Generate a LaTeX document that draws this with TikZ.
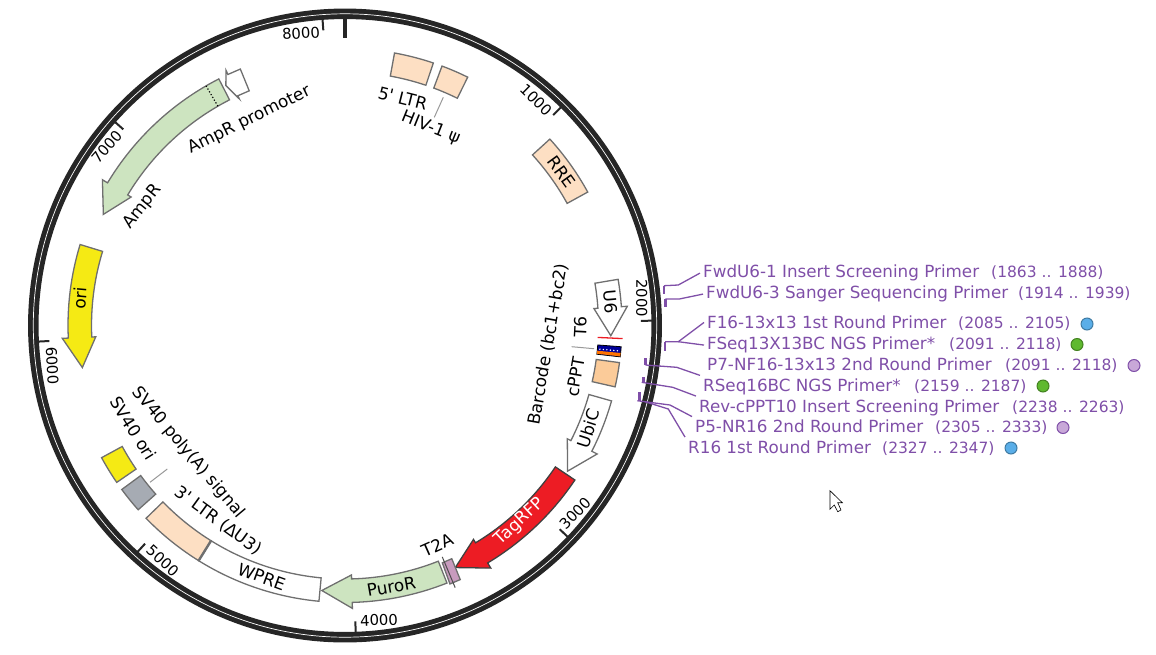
\documentclass[tikz,border=0pt]{standalone}
\usepackage{fontspec}
\setmainfont{DejaVu Sans}[Ligatures=TeXOff]
\definecolor{ringdark}{HTML}{262626}
\definecolor{edgegray}{HTML}{6F6F6F}
\definecolor{peach}{HTML}{FDDFC3}
\definecolor{cpptpeach}{HTML}{FBCB99}
\definecolor{ampgreen}{HTML}{CDE4C0}
\definecolor{oriyellow}{HTML}{F5EA14}
\definecolor{ssgray}{HTML}{A6ABB3}
\definecolor{rfpred}{HTML}{ED1C24}
\definecolor{tpink}{HTML}{C89BBE}
\definecolor{primerpurple}{HTML}{7F4FA8}
\definecolor{dotblue}{HTML}{5AAEE8}
\definecolor{dotgreen}{HTML}{5FB92F}
\definecolor{dotpurple}{HTML}{C8A8D8}
\tikzset{
    feat/.style={draw=edgegray, line width=1.3pt, line join=miter},
    featlabel/.style={font=\fontsize{16.9}{18}\selectfont, inner sep=0pt},
    ticklabel/.style={font=\fontsize{14.8}{16}\selectfont, inner sep=0pt},
    ticks/.style={color=ringdark, line width=2pt},
    leader/.style={color=gray!80, line width=1pt},
    primername/.style={font=\fontsize{16.75}{18}\selectfont, color=primerpurple, anchor=base west, inner sep=3pt},
    primerspan/.style={font=\fontsize{15.5}{18}\selectfont, color=primerpurple, anchor=base west, inner sep=0pt},
    primermark/.style={color=primerpurple, line width=2.5pt},
    primerline/.style={color=primerpurple, line width=1.3pt},
    primerdot/.style={circle, minimum size=12pt, inner sep=0pt, line width=1pt}
}
% clock angles: 0 at the top, growing clockwise
\newcommand{\featbox}[3]{%
    \draw[feat, #1] ({90-#2}:277pt) arc[start angle={90-#2}, end angle={90-#3}, radius=277pt]
        -- ({90-#3}:253.5pt) arc[start angle={90-#3}, end angle={90-#2}, radius=253.5pt] -- cycle;}
\newcommand{\featarrow}[4]{%
    \draw[feat, #1] ({90-#2}:277pt) arc[start angle={90-#2}, end angle={90-#3}, radius=277pt]
        -- ({90-#3}:283pt) -- ({90-#4}:266pt) -- ({90-#3}:249.5pt) -- ({90-#3}:253.5pt)
        arc[start angle={90-#3}, end angle={90-#2}, radius=253.5pt] -- cycle;}
\begin{document}
\begin{tikzpicture}[x=1pt, y=1pt]
    \useasboundingbox (0, 0) rectangle (1156, -654);
    \begin{scope}[shift={(345, -325.5)}]
        % backbone
        \draw[ringdark, line width=10.5pt] (0, 0) circle[radius=311.7pt];
        \draw[white, line width=0.7pt] (0, 0) circle[radius=311.7pt];
        \foreach \c in {44.7, 89.1, 133.5, 178, 222.5, 267, 311.5, 355.8} {
            \draw[ticks] ({90-\c}:296pt) -- ({90-\c}:307pt);
        }
        \draw[ringdark, line width=4pt] (90:288pt) -- (90:307pt);
        % features
        \featbox{fill=peach}{10.3}{18.6}
        \featbox{fill=peach}{20.5}{26.3}
        \featbox{fill=peach}{47.7}{61.2}
        \featarrow{fill=white}{80.4}{86.1}{92.2}
        \draw[rfpred, line width=1.3pt] ({90-92.7}:253pt) -- ({90-92.7}:278pt);
        \featbox{draw=black, line width=0.8pt, fill=blue!60!black}{94.4}{96.5}
        \featbox{draw=none, fill=orange!90!red}{95.7}{96.4}
        \foreach \r in {256, 259.5, ..., 275} {
            \fill[white] ({90-95.3}:\r pt) circle[radius=0.8pt];
        }
        \featbox{fill=cpptpeach}{97.7}{102.8}
        \featarrow{fill=white}{105.8}{117}{123.2}
        \featarrow{draw=black!75, fill=rfpred}{123.9}{149}{155.5}
        \draw[feat, fill=tpink] ({90-155.4}:256.5pt) -- ({90-155.6}:279pt) -- ({90-157.9}:279pt) -- ({90-157.7}:256.5pt) -- cycle;
        \draw[black!70, line width=1pt] ({90-157.2}:251pt) -- ({90-157.2}:284.3pt);
        \featarrow{fill=ampgreen}{158.4}{178.5}{185}
        \featbox{fill=white}{185.4}{211.9}
        \featbox{fill=peach}{211.9}{225.9}
        \draw[edgegray, line width=2.4pt] ({90-211.9}:253.5pt) -- ({90-211.9}:277pt);
        \featbox{fill=ssgray}{228.3}{233.7}
        \featbox{fill=oriyellow}{235.5}{241.5}
        \featarrow{fill=oriyellow}{287}{267.4}{260.9}
        \featarrow{fill=ampgreen}{332.9}{301}{294.7}
        \draw[black, line width=1.2pt, dotted] ({90-329.9}:253.5pt) -- ({90-329.9}:277pt);
        \draw[feat, fill=white] ({90-337.8}:277pt) -- ({90-335}:277pt) -- ({90-335}:281.5pt)
            -- ({90-333.6}:268pt) -- ({90-335}:250pt) -- ({90-335}:253.5pt) -- ({90-337.8}:253.5pt) -- cycle;
    \end{scope}
    % scale numbers
    \node[ticklabel, rotate=-44.5] (numone) at (536, -100) {1000};
    \node[ticklabel, rotate=-90] (numtwo) at (641.7, -298.3) {2000};
    \node[ticklabel, rotate=46] (numthree) at (575, -513.3) {3000};
    \node[ticklabel, rotate=2] (numfour) at (379, -620) {4000};
    \node[ticklabel, rotate=-42.5] (numfive) at (162.7, -560.7) {5000};
    \node[ticklabel, rotate=-87] (numsix) at (52.3, -365.7) {6000};
    \node[ticklabel, rotate=48.5] (numseven) at (106.7, -147.3) {7000};
    \node[ticklabel, rotate=4] (numeight) at (301, -33.3) {8000};
    % feature names
    \node[featlabel, rotate=-14] (ltrfive) at (402.7, -98.3) {5' LTR};
    \node[featlabel, rotate=-22] (hivpsi) at (430.7, -128.3) {HIV-1 ψ};
    \node[featlabel, rotate=-54] (rre) at (561.7, -171.7) {RRE};
    \node[featlabel, rotate=-85] (usix) at (610.7, -301.7) {U6};
    \node[featlabel, rotate=87] (tsix) at (580.7, -326.7) {T6};
    \node[featlabel, rotate=80] (barcode) at (548.3, -344.3) {Barcode (bc1+bc2)};
    \node[featlabel, rotate=80] (cppt) at (575.7, -376.7) {cPPT};
    \node[featlabel, rotate=72] (ubic) at (588.3, -428.3) {UbiC};
    \node[featlabel, white, rotate=43] (tagrfp) at (520, -521.7) {TagRFP};
    \node[featlabel, rotate=24] (ttwoa) at (437.3, -545) {T2A};
    \node[featlabel, rotate=10] (puror) at (391.3, -586.7) {PuroR};
    \node[featlabel, rotate=-20] (wpre) at (261.7, -576.7) {WPRE};
    \node[featlabel, rotate=-36] (ltrthree) at (218.3, -520.7) {3' LTR (ΔU3)};
    \node[featlabel, rotate=-50] (polya) at (188.3, -452.7) {SV40 poly(A) signal};
    \node[featlabel, rotate=-58] (svori) at (133.3, -428.3) {SV40 ori};
    \node[featlabel, rotate=85] (ori) at (80, -298.3) {ori};
    \node[featlabel, rotate=51] (ampr) at (142.7, -206.7) {AmpR};
    \node[featlabel, rotate=26] (amppro) at (249.3, -120) {AmpR promoter};
    % thin leaders
    \coordinate (hivbox) at (443.3, -97.3);
    \coordinate (hivtext) at (434.3, -117.3);
    \draw[leader] (hivbox) -- (hivtext);
    \coordinate (bcbox) at (594, -348.7);
    \coordinate (bctext) at (571.7, -346.7);
    \draw[leader] (bcbox) -- (bctext);
    \coordinate (svbox) at (150, -482.3);
    \coordinate (svtext) at (167.3, -469);
    \draw[leader] (svbox) -- (svtext);
    % primers
    \node[primername] (fwdone) at (700, -277.7) {FwdU6-1 Insert Screening Primer};
    \node[primerspan] (fwdonepos) at (991, -277.7) {(1863 .. 1888)};
    \node[primername] (fwdthree) at (703, -298.7) {FwdU6-3 Sanger Sequencing Primer};
    \node[primerspan] (fwdthreepos) at (1018, -298.7) {(1914 .. 1939)};
    \node[primername] (fsixteen) at (704, -328.7) {F16-13x13 1st Round Primer};
    \node[primerspan] (fsixteenpos) at (958, -328.7) {(2085 .. 2105)};
    \node[primername] (fseq) at (704, -349.7) {FSeq13X13BC NGS Primer*};
    \node[primerspan] (fseqpos) at (949, -349.7) {(2091 .. 2118)};
    \node[primername] (pseven) at (704, -370.3) {P7-NF16-13x13 2nd Round Primer};
    \node[primerspan] (psevenpos) at (1005, -370.3) {(2091 .. 2118)};
    \node[primername] (rseq) at (700, -391.3) {RSeq16BC NGS Primer*};
    \node[primerspan] (rseqpos) at (914, -391.3) {(2159 .. 2187)};
    \node[primername] (revcppt) at (696, -412) {Rev-cPPT10 Insert Screening Primer};
    \node[primerspan] (revcpptpos) at (1012, -412) {(2238 .. 2263)};
    \node[primername] (pfive) at (692, -432.5) {P5-NR16 2nd Round Primer};
    \node[primerspan] (pfivepos) at (935, -432.5) {(2305 .. 2333)};
    \node[primername] (rsixteen) at (685, -453) {R16 1st Round Primer};
    \node[primerspan] (rsixteenpos) at (882, -453) {(2327 .. 2347)};
    \node[primerdot, draw=dotblue!70!black, fill=dotblue] (dotfa) at (1087, -324) {};
    \node[primerdot, draw=dotgreen!70!black, fill=dotgreen] (dotfb) at (1077, -344.5) {};
    \node[primerdot, draw=primerpurple, fill=dotpurple] (dotfc) at (1134, -365.5) {};
    \node[primerdot, draw=dotgreen!70!black, fill=dotgreen] (dotra) at (1043, -386) {};
    \node[primerdot, draw=primerpurple, fill=dotpurple] (dotrb) at (1063, -427.5) {};
    \node[primerdot, draw=dotblue!70!black, fill=dotblue] (dotrc) at (1011, -448) {};
    % primer marks
    \coordinate (markone) at (664, -285.7);
    \coordinate (marktwo) at (665.3, -299);
    \coordinate (markthree) at (665, -341.7);
    \coordinate (markfour) at (645.3, -365);
    \coordinate (markfive) at (641.7, -382.3);
    \coordinate (marksix) at (637.3, -400.7);
    \coordinate (markseven) at (645, -401.7);
    \draw[primermark] (markone) -- ++(0, -8.3);
    \draw[primermark] (marktwo) -- ++(0, -8.3);
    \draw[primermark] (markthree) -- ++(0, -9.3);
    \draw[primermark] (markfour) -- ++(0, 6.7);
    \draw[primermark] (643.3, -382.3) -- ++(0, 5);
    \draw[primermark] (639.3, -400.7) -- ++(0, 8.4);
    \draw[primerline] (markone) -- (678.3, -285) -- (fwdone.west);
    \draw[primerline] (marktwo) -- (679.3, -299) -- (fwdthree.west);
    \draw[primerline] (markthree) -- (678.3, -341.7) -- (fsixteen.west);
    \draw[primerline] (678.3, -341.7) -- (fseq.west);
    \draw[primerline] (markfour) -- (676.7, -367.3) -- (rseq.north west);
    \draw[primerline] (markfive) -- (672.7, -387.3) -- (revcppt.north west);
    \draw[primerline] (marksix) -- (670, -405) -- (pfive.north west);
    \draw[primerline] (markseven) -- (668.3, -409) -- (rsixteen.north west);
    % pointer
    \draw[fill=white, line width=0.6pt] (830, -490.7) -- (830, -509.3) -- (834.3, -505) -- (837.7, -511.7)
        -- (841, -510) -- (837.7, -502.7) -- (842.3, -502.7) -- cycle;
\end{tikzpicture}
\end{document}
